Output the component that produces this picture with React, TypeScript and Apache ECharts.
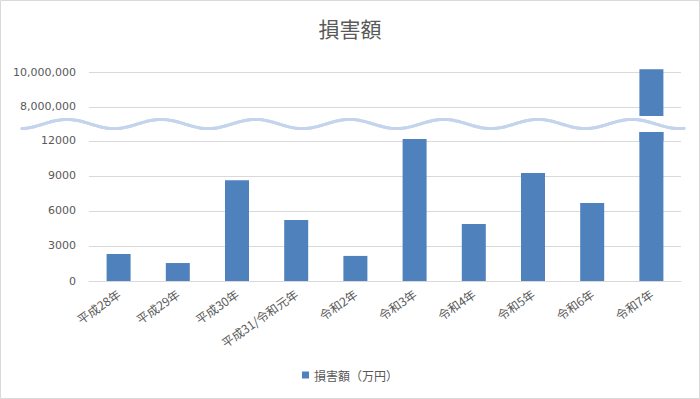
import React, { useEffect, useRef } from 'react';
import * as echarts from 'echarts';

const titleText = '損害額';
const seriesName = '損害額（万円）';
const categories = ['平成28年', '平成29年', '平成30年', '平成31/令和元年', '令和2年', '令和3年', '令和4年', '令和5年', '令和6年', '令和7年'];
const damageValues = [2320, 1540, 8640, 5230, 2150, 12180, 4890, 9260, 6690, 10200000];
const lowerTicks = [0, 3000, 6000, 9000, 12000];
const upperTicks = [8000000, 10000000];

const LOWER_MAX = 12771;
const UPPER_MIN = 6000000;
const UPPER_MAX = 10500000;

const FONT = '"Noto Sans CJK JP", "Noto Sans", sans-serif';
const NUM_FONT = '"DejaVu Sans", sans-serif';
const GRAY = '#595959';
const GRID = '#d9d9d9';
const BAR = '#4f81bd';

function wavePoints(): number[][] {
  const pts: number[][] = [];
  for (let x = 22; x <= 685; x += 2) {
    pts.push([x, 124 - 4.6 * Math.cos((2 * Math.PI * (x - 67)) / 94.2)]);
  }
  return pts;
}

export default function App() {
  const ref = useRef<HTMLDivElement>(null);
  useEffect(() => {
    if (!ref.current) return;
    const chart = echarts.init(ref.current, undefined, { renderer: 'svg' });
    const left = 89;
    const right = 19;
    chart.setOption({
      animation: false,
      backgroundColor: '#ffffff',
      title: {
        text: titleText,
        left: 'center',
        top: 17,
        padding: 0,
        textStyle: { fontFamily: FONT, fontSize: 21, fontWeight: 'normal', color: GRAY },
      },
      legend: {
        data: [seriesName],
        bottom: 13,
        left: 'center',
        icon: 'rect',
        itemWidth: 7,
        itemHeight: 7,
        textStyle: { fontFamily: FONT, fontSize: 12, color: GRAY },
      },
      grid: [
        { left, right, top: 132, bottom: 118 },
        { left, right, top: 64, height: 77 },
      ],
      xAxis: [
        {
          type: 'category',
          gridIndex: 0,
          data: categories,
          axisLine: { show: true, lineStyle: { color: GRID, width: 1 } },
          axisTick: { show: false },
          axisLabel: {
            interval: 0,
            rotate: 35,
            margin: 11,
            fontFamily: FONT,
            fontSize: 12,
            color: GRAY,
          },
        },
        {
          type: 'category',
          gridIndex: 1,
          data: categories,
          show: false,
        },
      ],
      yAxis: [
        {
          type: 'value',
          gridIndex: 0,
          min: 0,
          max: LOWER_MAX,
          interval: 3000,
          axisLine: { show: false },
          axisTick: { show: false },
          splitLine: { show: true, showMaxLine: false, lineStyle: { color: GRID, width: 1 } },
          axisLabel: {
            showMaxLabel: false,
            margin: 13,
            fontFamily: NUM_FONT,
            fontSize: 11,
            color: GRAY,
            formatter: (v: number) => (lowerTicks.includes(v) ? String(v) : ''),
          },
        },
        {
          type: 'value',
          gridIndex: 1,
          min: UPPER_MIN,
          max: UPPER_MAX,
          interval: 2000000,
          axisLine: { show: false },
          axisTick: { show: false },
          splitLine: { show: true, showMinLine: false, showMaxLine: false, lineStyle: { color: GRID, width: 1 } },
          axisLabel: {
            showMinLabel: false,
            showMaxLabel: false,
            margin: 13,
            fontFamily: NUM_FONT,
            fontSize: 11,
            color: GRAY,
            formatter: (v: number) => (upperTicks.includes(v) ? v.toLocaleString('en-US') : ''),
          },
        },
      ],
      series: [
        {
          name: seriesName,
          type: 'bar',
          xAxisIndex: 0,
          yAxisIndex: 0,
          data: damageValues,
          barWidth: 24,
          itemStyle: { color: BAR },
          clip: true,
        },
        {
          name: seriesName,
          type: 'bar',
          xAxisIndex: 1,
          yAxisIndex: 1,
          data: damageValues.map((v) => (v > LOWER_MAX ? v : '-')),
          barWidth: 24,
          itemStyle: { color: BAR },
          clip: true,
        },
      ],
      graphic: [
        {
          type: 'rect',
          z: 100,
          silent: true,
          shape: { x: 0.5, y: 0.5, width: 699, height: 398 },
          style: { fill: 'none', stroke: GRID, lineWidth: 1 },
        },
        {
          type: 'rect',
          z: 100,
          silent: true,
          shape: { x: left, y: 116, width: 700 - left - right, height: 16 },
          style: { fill: '#ffffff' },
        },
        {
          type: 'polyline',
          z: 101,
          silent: true,
          shape: { points: wavePoints(), smooth: 0.3 },
          style: {
            fill: 'none',
            stroke: '#c3d4ec',
            lineWidth: 3,
            lineCap: 'round',
            shadowBlur: 1.5,
            shadowColor: 'rgba(170,195,230,0.7)',
          },
        },
      ],
    });
    return () => chart.dispose();
  }, []);
  return <div ref={ref} style={{ position: 'fixed', left: 0, top: 0, width: 700, height: 399 }} />;
}
